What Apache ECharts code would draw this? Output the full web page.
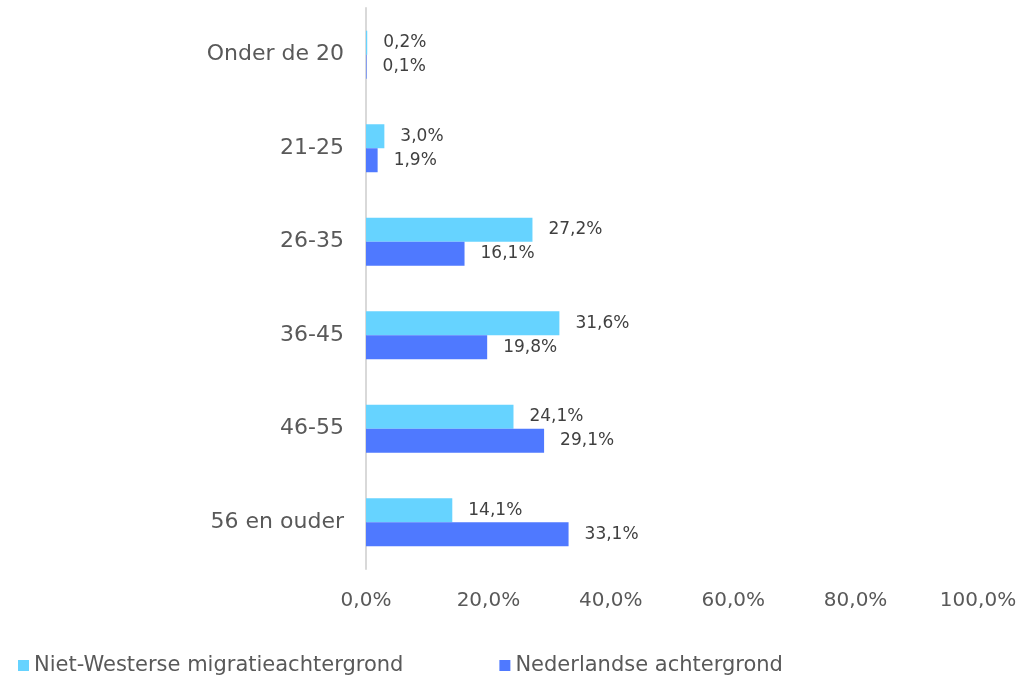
<!DOCTYPE html>
<html>
<head>
<meta charset="utf-8">
<script src="https://cdn.jsdelivr.net/npm/echarts@6/dist/echarts.min.js"></script>
<style>
  html, body { margin: 0; padding: 0; background: #fff; }
  #main { width: 1032px; height: 680px; }
</style>
</head>
<body>
<div id="main"></div>
<script>
// leeftijdscategorieën (van boven naar beneden)
var categories = ['Onder de 20', '21-25', '26-35', '36-45', '46-55', '56 en ouder'];
// percentages per groep
var nietWesters = [0.2, 3.0, 27.2, 31.6, 24.1, 14.1];
var nederlands = [0.1, 1.9, 16.1, 19.8, 29.1, 33.1];
var seriesNames = ['Niet-Westerse migratieachtergrond', 'Nederlandse achtergrond'];

var fontFamily = '"DejaVu Sans", sans-serif';

// 12.3 -> "12,3%"
function pct(v) {
    return v.toFixed(1).replace('.', ',') + '%';
}

var myChart = echarts.init(document.getElementById('main'));

var option = {
    backgroundColor: '#ffffff',
    textStyle: { fontFamily: fontFamily },
    grid: {
        left: 366,
        right: 54,
        top: 8,
        bottom: 111
    },
    legend: {
        data: seriesNames,
        left: 13,
        top: 650,
        itemWidth: 11,
        itemHeight: 11,
        itemGap: 96,
        icon: 'rect',
        textStyle: { fontSize: 21, color: '#595959', fontFamily: fontFamily }
    },
    xAxis: {
        type: 'value',
        min: 0,
        max: 100,
        interval: 20,
        splitLine: { show: false },
        axisLine: { show: false },
        axisTick: { show: false },
        axisLabel: {
            fontSize: 20,
            color: '#595959',
            margin: 22,
            formatter: function (v) { return pct(v); }
        }
    },
    yAxis: {
        type: 'category',
        inverse: true,
        data: categories,
        axisLine: { show: true, lineStyle: { color: '#D9D9D9', width: 2 } },
        axisTick: { show: false },
        axisLabel: { fontSize: 22, color: '#595959', margin: 22 }
    },
    series: [
        {
            name: seriesNames[0],
            type: 'bar',
            data: nietWesters,
            barWidth: 24,
            barGap: '0%',
            itemStyle: { color: '#66D3FF' },
            label: {
                show: true,
                position: 'right',
                distance: 16,
                fontSize: 17,
                color: '#404040',
                formatter: function (p) { return pct(p.value); }
            }
        },
        {
            name: seriesNames[1],
            type: 'bar',
            data: nederlands,
            barWidth: 24,
            barGap: '0%',
            itemStyle: { color: '#4F79FF' },
            label: {
                show: true,
                position: 'right',
                distance: 16,
                fontSize: 17,
                color: '#404040',
                formatter: function (p) { return pct(p.value); }
            }
        }
    ]
};

myChart.setOption(option);
</script>
</body>
</html>
